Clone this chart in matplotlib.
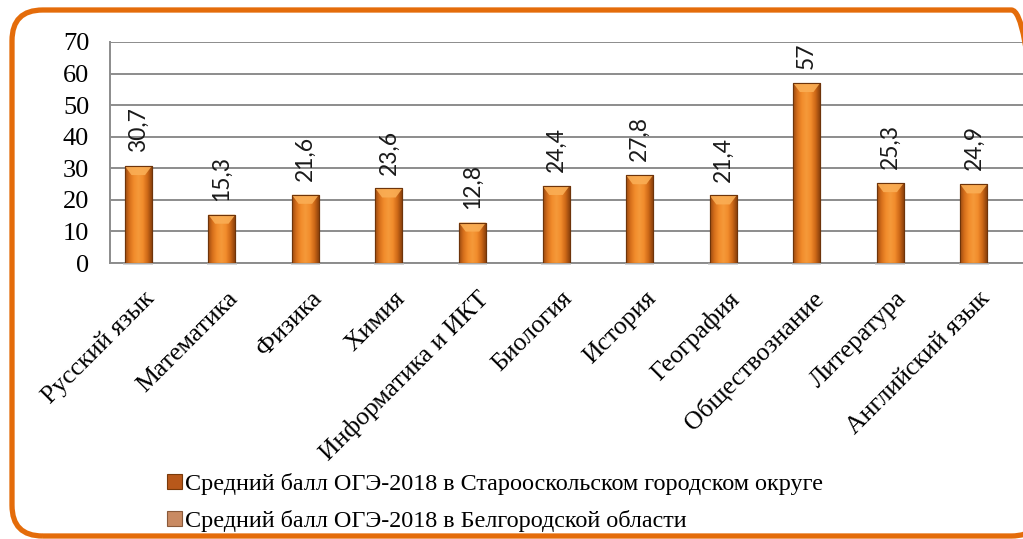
import numpy as np
import matplotlib
matplotlib.use("Agg")
import matplotlib.pyplot as plt
from matplotlib.patches import FancyBboxPatch, Polygon, Rectangle
from matplotlib.colors import LinearSegmentedColormap
from matplotlib.transforms import ScaledTranslation

categories = ["Русский язык", "Математика", "Физика", "Химия", "Информатика и ИКТ",
              "Биология", "История", "География", "Обществознание", "Литература",
              "Английский язык"]
city_values = [30.7, 15.3, 21.6, 23.6, 12.8, 24.4, 27.8, 21.4, 57, 25.3, 24.9]
region_values = [None] * 11
city_labels = ["30,7", "15,3", "21,6", "23,6", "12,8", "24,4", "27,8", "21,4", "57", "25,3", "24,9"]
series_names = ["Средний балл ОГЭ-2018 в Старооскольском городском округе",
                "Средний балл ОГЭ-2018 в Белгородской области"]
yticks = [0, 10, 20, 30, 40, 50, 60, 70]

SERIF = ["Liberation Serif", "DejaVu Serif"]
SANS = ["Lato", "DejaVu Sans"]

W, H, DPI = 1023, 539, 100
fig = plt.figure(figsize=(W / DPI, H / DPI), dpi=DPI)
fig.patch.set_facecolor("white")

# orange rounded frame (its right side lies beyond the picture edge)
frame = FancyBboxPatch((12 / W, 3 / H), 1030 / W, 526 / H,
                       boxstyle="round,pad=0,rounding_size=0.03",
                       mutation_aspect=W / H,
                       transform=fig.transFigure, fill=False,
                       edgecolor="#E46C0A", linewidth=3.8)
fig.add_artist(frame)

ax = fig.add_axes([110 / W, 1 - 263 / H, 919 / W, 221 / H])
ax.set_facecolor("none")

x = np.arange(len(categories))
bw = 0.323
city = np.array(city_values, dtype=float)
region = np.array([np.nan if v is None else v for v in region_values], dtype=float)

bars1 = ax.bar(x - bw / 2, city, width=bw, color="#D8711C", edgecolor="#7A3A0A",
               linewidth=0.8, zorder=3, label=series_names[0])
bars2 = ax.bar(x + bw / 2, region, width=bw, color="#D9925E", edgecolor="#8A5A3A",
               linewidth=0.8, zorder=3, label=series_names[1])

cmap = LinearSegmentedColormap.from_list(
    "cyl", ["#9C4A10", "#D8711C", "#F28C2C", "#F59A3A", "#F28C2C", "#D06A18", "#8E420C"])
grad = np.linspace(0, 1, 64).reshape(1, -1)
px_per_unit = 221 / 70
for rect in bars1:
    x0, y0 = rect.get_xy()
    w, h = rect.get_width(), rect.get_height()
    ax.add_patch(Rectangle((x0 - w * 0.05, y0 - 2 / px_per_unit), w * 1.1, 2.5 / px_per_unit,
                           facecolor="#BBBBBB", edgecolor="none", alpha=0.6, zorder=2.9,
                           clip_on=False))
    im = ax.imshow(grad, extent=(x0, x0 + w, y0, y0 + h), aspect="auto",
                   cmap=cmap, zorder=3.5, interpolation="bicubic")
    im.set_clip_path(rect)
    d = 9 / px_per_unit
    tri = Polygon([(x0, y0 + h), (x0 + w, y0 + h), (x0 + w * 0.75, y0 + h - d),
                   (x0 + w * 0.25, y0 + h - d)], closed=True,
                  facecolor="#FAAE55", edgecolor="none", alpha=0.9, zorder=3.6)
    ax.add_patch(tri)
    ax.add_patch(Rectangle((x0, y0), w, h, fill=False,
                           edgecolor="#6E340A", linewidth=0.8, zorder=3.7))

for xi, v, lab in zip(x - bw / 2, city, city_labels):
    ax.annotate(lab, (xi, v), xytext=(0, 10), textcoords="offset points",
                rotation=90, ha="center", va="bottom", fontsize=16.5,
                family=SANS, color="#1a1a1a", zorder=5)

ax.set_xlim(-0.5, len(categories) - 0.5)
ax.set_ylim(0, 70)
ax.set_yticks(yticks)
ax.set_yticklabels([str(t) for t in yticks], family=SERIF, fontsize=19)
ax.grid(axis="y", color="#8C8C8C", linewidth=1.4, zorder=0)
ax.set_axisbelow(True)
for s in ["top", "right"]:
    ax.spines[s].set_visible(False)
for s in ["left", "bottom"]:
    ax.spines[s].set_color("#8C8C8C")
    ax.spines[s].set_linewidth(1.4)
ax.tick_params(axis="y", length=0, pad=15)
ax.tick_params(axis="x", length=0, pad=17.5)
ax.set_xticks(x)
ax.set_xticklabels(categories, family=SERIF, fontsize=18.5, rotation=45,
                   ha="right", va="top", rotation_mode="anchor")
off = ScaledTranslation(-6 / 72, 0, fig.dpi_scale_trans)
for lbl in ax.get_xticklabels():
    lbl.set_transform(lbl.get_transform() + off)

leg = fig.legend(handles=[bars1, bars2], labels=series_names,
                 loc="upper left", bbox_to_anchor=(155 / W, 1 - 461 / H),
                 frameon=False, prop={"family": SERIF, "size": 17.4},
                 handlelength=0.6, handleheight=0.6, handletextpad=0.15,
                 labelspacing=0.62, borderpad=0)
for hnd, col in zip(leg.legend_handles, ["#B8581A", "#C98A62"]):
    hnd.set_facecolor(col)

fig.savefig("out.png", dpi=DPI)
